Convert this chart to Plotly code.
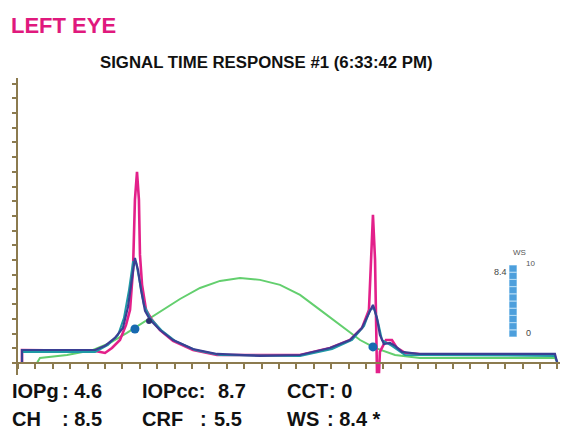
import plotly.graph_objects as go

# ---- data (time in ms-ish units, signal in arbitrary units) ----
blue_x = [0.23, 0.23, 4.43, 5.0, 5.57, 6.03, 6.32, 6.55, 6.72, 6.90, 7.07, 7.30, 7.59, 8.16, 8.91, 10.06, 11.44, 13.91, 16.21, 17.93, 19.08, 19.77, 20.11, 20.40, 20.63, 20.80, 21.03, 21.38, 21.67, 22.07, 23.10, 30.86, 30.98]
blue_y = [0, 0.88, 0.88, 1.16, 1.70, 2.38, 3.81, 5.65, 7.14, 6.33, 4.97, 3.54, 2.93, 2.24, 1.56, 0.95, 0.61, 0.48, 0.54, 1.02, 1.56, 2.38, 3.27, 3.95, 3.06, 1.90, 1.29, 1.36, 1.16, 0.75, 0.61, 0.61, 0.07]

teal_x = [0.23, 0.23, 4.43, 5.17, 5.75, 6.09, 6.38, 6.61, 6.78, 7.01, 7.24, 7.59, 8.28, 9.02, 10.17, 11.61, 16.21, 18.05, 19.20, 19.89, 20.23, 20.46, 20.69, 20.92, 21.49, 22.24, 30.86, 30.98]
teal_y = [0, 0.75, 0.75, 1.22, 1.90, 3.06, 4.97, 6.87, 6.87, 5.51, 3.95, 3.06, 2.18, 1.50, 0.88, 0.54, 0.48, 0.95, 1.56, 2.52, 3.61, 3.74, 2.79, 1.56, 1.16, 0.54, 0.48, 0.07]

green_x = [0.11, 1.09, 1.26, 2.82, 4.31, 5.29, 6.26, 7.18, 8.16, 9.31, 10.46, 11.61, 12.76, 13.91, 15.06, 16.21, 17.36, 18.51, 19.66, 20.52, 21.67, 23.10, 30.86, 31.03]
green_y = [0, 0, 0.34, 0.54, 0.88, 1.36, 2.04, 2.72, 3.47, 4.35, 5.10, 5.58, 5.78, 5.65, 5.31, 4.63, 3.61, 2.59, 1.56, 1.02, 0.54, 0.34, 0.34, 0]

pink_x = [0.23, 0.23, 4.43, 5.0, 5.40, 5.86, 6.21, 6.44, 6.61, 6.72, 6.84, 6.95, 7.01, 7.13, 7.36, 7.70, 8.16, 8.91, 10.06, 11.44, 16.21, 17.93, 19.08, 19.77, 20.17, 20.29, 20.40, 20.52, 20.57, 20.63, 20.75, 20.80, 21.15, 21.49, 21.78, 22.24, 23.10]
pink_y = [0, 0.88, 0.82, 0.68, 1.02, 1.56, 2.59, 3.61, 6.33, 11.09, 12.99, 11.09, 7.35, 5.31, 3.61, 2.93, 2.24, 1.50, 0.88, 0.54, 0.54, 1.02, 1.56, 2.38, 3.61, 7.01, 10.07, 7.01, 2.93, -0.61, -0.61, 0.75, 1.56, 1.56, 1.02, 0.68, 0.61]

dot_x = [6.72, 20.40]
dot_y = [2.31, 1.09]
mark_x = [7.53]
mark_y = [2.86]

ws_segments = [1, 1, 1, 1, 1, 1, 1, 1, 1, 1]
ws_base = [0, 1, 2, 3, 4, 5, 6, 7, 8, 9]

row1 = [("IOPg", 10), (": 4.6", 60), ("IOPcc:", 140), ("8.7", 216), ("CCT", 285), (": 0", 327)]
row2 = [("CH", 10), (": 8.5", 60), ("CRF", 140), (":", 198), ("5.5", 212), ("WS", 285), (": 8.4 *", 325)]

W, H = 562, 436
L, R, T, B = 18, 560, 78, 375


def px(x, y):
    return (x - L) / (R - L), (B - y) / (B - T)


fig = go.Figure()
fig.add_trace(go.Scatter(x=green_x, y=green_y, mode="lines", line=dict(color="#63cf6e", width=2), hoverinfo="skip"))
fig.add_trace(go.Scatter(x=pink_x, y=pink_y, mode="lines", line=dict(color="#e3208a", width=2.6), hoverinfo="skip"))
fig.add_trace(go.Scatter(x=teal_x, y=teal_y, mode="lines", line=dict(color="#1f9aa6", width=2), hoverinfo="skip"))
fig.add_trace(go.Scatter(x=blue_x, y=blue_y, mode="lines", line=dict(color="#3a3f93", width=2.2), hoverinfo="skip"))
fig.add_trace(go.Scatter(x=dot_x, y=dot_y, mode="markers", marker=dict(color="#1769b0", size=9), hoverinfo="skip"))
fig.add_trace(go.Scatter(x=mark_x, y=mark_y, mode="markers", marker=dict(color="#2b2f6e", size=6), hoverinfo="skip"))

fig.add_trace(go.Bar(x=[0] * len(ws_segments), y=ws_segments, base=ws_base, xaxis="x2", yaxis="y2",
                     marker=dict(color="#4d9fdc", line=dict(color="#b6dcf5", width=1)), width=1, hoverinfo="skip"))

axcol = "#8c7b4f"
fig.update_layout(
    width=W, height=H,
    margin=dict(l=L, r=W - R, t=T, b=H - B),
    paper_bgcolor="white", plot_bgcolor="white",
    showlegend=False, barmode="overlay",
    xaxis=dict(range=[0, 31.15], dtick=1, ticks="outside", ticklen=5, tickwidth=1.5, tickcolor=axcol,
               showticklabels=False, showgrid=False, zeroline=False, showline=True, linecolor=axcol, linewidth=2,
               anchor="free", position=(B - 363) / (B - T)),
    yaxis=dict(range=[-0.82, 19.38], dtick=1, tick0=0, ticks="outside", ticklen=4, tickwidth=1.5, tickcolor=axcol,
               showticklabels=False, showgrid=False, zeroline=False, showline=True, linecolor=axcol, linewidth=2),
    xaxis2=dict(domain=[px(509, 0)[0], px(517, 0)[0]], range=[-0.5, 0.5], visible=False, anchor="y2"),
    yaxis2=dict(domain=[px(0, 337)[1], px(0, 265)[1]], range=[0, 10], visible=False, anchor="x2"),
)

ann = []


def add_text(text, x, y, size, color="#111", bold=True, xanchor="left", family="Liberation Sans, Arial, sans-serif"):
    xp, yp = px(x, y)
    ann.append(dict(text=f"<b>{text}</b>" if bold else text, x=xp, y=yp, xref="paper", yref="paper",
                    xanchor=xanchor, yanchor="middle", showarrow=False,
                    font=dict(size=size, color=color, family=family)))


add_text("LEFT EYE", 9, 25, 22, color="#e0197d")
add_text("SIGNAL TIME RESPONSE #1 (6:33:42 PM)", 266, 62, 16.8, color="#111", xanchor="center")
for t, x in row1:
    add_text(t, x, 391, 20)
for t, x in row2:
    add_text(t, x, 419, 20)
add_text("WS", 511, 252, 8, color="#555", bold=False)
add_text("10", 524, 263, 8, color="#555", bold=False)
add_text("8.4", 492, 272, 9, color="#444", bold=False)
add_text("0", 524, 333, 9, color="#444", bold=False)

fig.update_layout(annotations=ann)
fig.write_html("out.html", config={"displayModeBar": False},
               post_script="document.body.style.margin='0';document.body.style.overflow='hidden';")
